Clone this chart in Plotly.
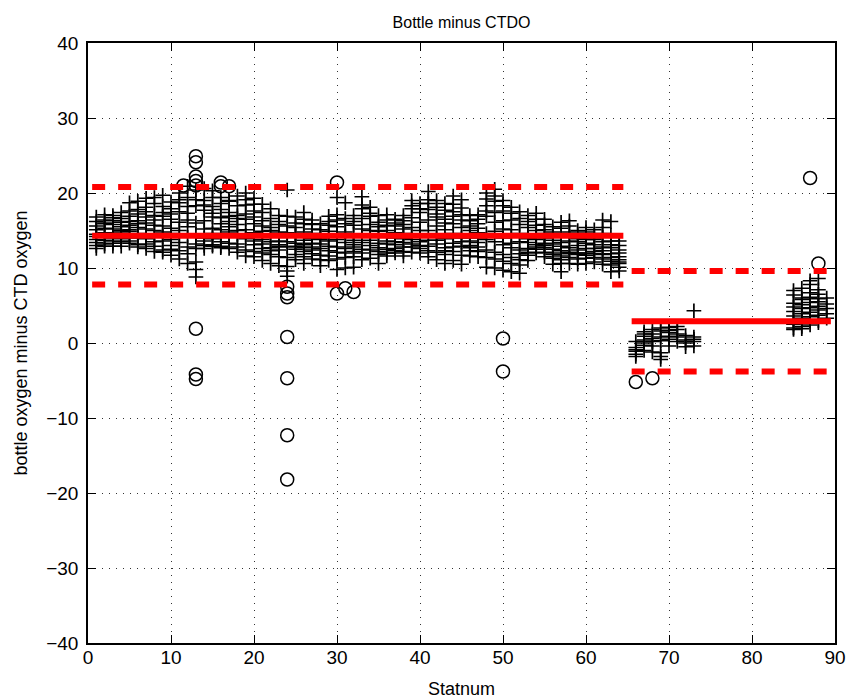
import plotly.graph_objects as go

# ---------------- data ----------------
# Group 1: stations 1-64, bottle minus CTD oxygen (crosses)
stations_g1 = list(range(1, 65))
vals_01_16 = [
    [13.0, 16.2, 14.5, 12.6, 15.1, 13.8, 16.8, 14.2, 15.6, 13.4],
    [15.9, 13.2, 14.7, 17.1, 12.9, 16.4, 14.1, 15.3, 13.7, 16.0],
    [14.6, 16.7, 13.3, 15.8, 12.9, 17.0, 14.0, 15.2, 16.3, 13.6],
    [16.1, 13.5, 15.0, 17.4, 14.3, 12.9, 16.6, 15.5, 13.9, 14.8],
    [18.7, 14.2, 16.9, 13.6, 15.7, 17.6, 14.9, 13.3, 16.2, 15.1],
    [17.2, 15.4, 13.1, 18.9, 16.3, 14.6, 12.8, 17.8, 15.9, 14.0],
    [19.3, 13.9, 16.8, 12.6, 18.1, 15.2, 14.4, 17.5, 13.2, 16.0],
    [18.6, 12.2, 15.7, 19.4, 14.1, 17.0, 13.5, 16.4, 12.9, 15.0],
    [19.7, 16.9, 12.4, 14.8, 18.2, 13.6, 17.4, 15.6, 12.1, 14.2],
    [18.8, 11.7, 15.3, 17.9, 13.0, 16.5, 12.5, 14.6, 17.2, 13.8],
    [20.0, 11.2, 16.1, 18.7, 13.4, 15.0, 12.3, 17.5, 14.2, 19.1],
    [20.9, 10.6, 17.3, 19.4, 12.8, 15.5, 14.1, 18.2, 11.9, 16.4],
    [20.4, 10.8, 9.8, 8.8, 18.3, 13.2, 16.0, 14.5, 19.1, 12.6],
    [20.6, 13.0, 17.7, 15.2, 19.0, 12.6, 16.3, 14.0, 18.4, 13.6],
    [20.3, 14.6, 18.2, 13.1, 16.8, 19.4, 15.3, 12.9, 17.3, 13.9],
    [19.4, 12.7, 15.9, 17.8, 13.5, 14.4, 18.6, 16.7, 12.9, 15.1],
]
vals_17_32 = [
    [18.9, 12.6, 16.2, 14.8, 17.4, 13.3, 15.5, 19.0, 14.1, 16.9],
    [19.6, 12.1, 17.0, 14.5, 18.3, 13.2, 15.8, 16.6, 12.8, 15.0],
    [20.0, 11.6, 18.4, 13.9, 16.5, 15.1, 19.1, 12.4, 17.2, 14.4],
    [19.3, 11.5, 17.6, 13.6, 15.9, 18.5, 12.2, 14.7, 16.8, 13.1],
    [18.5, 11.0, 16.3, 13.2, 14.9, 17.4, 12.0, 15.6, 13.8, 12.6],
    [17.9, 10.6, 15.4, 12.7, 16.6, 13.5, 11.8, 14.3, 12.3, 15.0],
    [17.0, 10.3, 14.8, 12.4, 15.8, 11.5, 13.6, 12.9, 16.2, 13.1],
    [20.4, 8.9, 9.6, 10.2, 16.9, 12.8, 14.7, 11.4, 13.5, 15.6],
    [16.8, 11.1, 14.2, 12.5, 15.4, 13.3, 11.8, 16.0, 12.9, 14.6],
    [17.4, 10.6, 13.7, 15.9, 12.2, 14.8, 11.5, 16.5, 13.1, 12.7],
    [16.4, 11.2, 13.9, 12.4, 15.2, 14.6, 11.9, 13.3, 15.8, 12.8],
    [15.9, 10.3, 13.2, 14.5, 11.7, 12.6, 15.1, 13.8, 11.1, 14.0],
    [16.9, 11.0, 14.3, 12.3, 15.7, 13.6, 11.6, 16.2, 12.9, 14.9],
    [19.4, 9.8, 17.1, 12.1, 15.5, 13.8, 11.2, 16.4, 14.5, 12.8],
    [18.7, 10.0, 15.9, 12.6, 14.2, 13.4, 11.4, 16.6, 12.0, 14.8],
    [17.0, 10.1, 14.5, 12.2, 15.7, 13.1, 11.5, 16.2, 12.8, 13.7],
]
vals_33_48 = [
    [19.5, 11.1, 16.6, 13.4, 17.9, 12.5, 15.2, 14.3, 18.4, 12.0],
    [18.1, 11.3, 15.8, 13.0, 16.9, 12.4, 14.5, 17.3, 13.7, 15.0],
    [17.0, 10.6, 14.9, 12.7, 16.1, 13.3, 11.8, 15.5, 12.2, 14.1],
    [17.1, 11.6, 15.0, 13.2, 16.4, 12.5, 14.4, 12.0, 15.7, 13.6],
    [16.5, 12.0, 14.7, 13.1, 15.6, 12.6, 14.0, 16.0, 13.5, 12.3],
    [17.0, 11.6, 15.2, 13.4, 16.3, 12.2, 14.6, 12.8, 15.8, 13.9],
    [19.0, 12.1, 16.7, 13.8, 17.9, 12.8, 15.4, 14.3, 18.3, 13.2],
    [18.6, 12.0, 16.1, 13.5, 17.4, 12.6, 15.0, 14.2, 17.9, 13.0],
    [20.2, 11.5, 17.8, 13.7, 19.1, 12.3, 16.4, 15.0, 18.6, 12.9],
    [19.0, 11.1, 17.2, 13.2, 18.1, 12.1, 15.6, 14.4, 16.8, 13.7],
    [18.6, 10.6, 16.5, 12.7, 17.7, 11.8, 15.1, 13.9, 16.0, 12.3],
    [19.6, 11.0, 17.5, 13.3, 18.5, 12.2, 15.9, 14.6, 16.9, 12.8],
    [19.1, 10.5, 17.1, 12.9, 18.0, 11.7, 15.4, 14.0, 16.4, 13.5],
    [17.0, 11.6, 15.6, 13.0, 16.3, 12.3, 14.4, 13.6, 15.0, 12.7],
    [17.1, 11.5, 15.9, 12.8, 16.5, 12.2, 14.7, 13.4, 15.3, 14.0],
    [20.0, 10.1, 18.3, 12.4, 19.2, 11.4, 16.9, 13.8, 17.6, 14.6],
]
vals_49_64 = [
    [20.5, 10.0, 18.9, 12.1, 19.6, 11.2, 17.4, 13.5, 16.1, 14.9],
    [19.0, 9.7, 17.6, 11.8, 18.3, 10.9, 16.3, 13.1, 15.2, 14.0],
    [18.1, 9.5, 16.4, 11.4, 17.3, 10.6, 15.1, 12.7, 14.3, 13.3],
    [17.5, 9.3, 15.8, 11.1, 16.6, 10.4, 14.6, 12.4, 13.5, 11.9],
    [17.0, 11.0, 15.4, 12.6, 16.2, 11.7, 14.3, 13.4, 12.1, 13.9],
    [17.3, 12.0, 15.7, 13.1, 16.5, 12.5, 14.5, 13.8, 15.0, 12.8],
    [16.5, 11.5, 15.1, 12.7, 15.8, 12.1, 14.0, 13.3, 14.6, 13.0],
    [15.5, 10.5, 14.2, 12.0, 14.8, 11.3, 13.2, 12.5, 13.7, 11.8],
    [16.1, 9.5, 14.6, 11.6, 15.3, 10.6, 13.4, 12.3, 12.9, 11.1],
    [16.3, 10.6, 14.8, 12.1, 15.6, 11.4, 13.6, 12.7, 14.2, 11.9],
    [15.0, 10.5, 13.9, 11.8, 14.5, 11.2, 13.0, 12.4, 12.0, 13.5],
    [15.4, 10.6, 14.1, 12.0, 14.8, 11.3, 13.3, 12.6, 11.7, 13.8],
    [15.1, 10.8, 13.8, 12.2, 14.5, 11.4, 13.1, 12.6, 11.9, 14.0],
    [16.4, 10.5, 14.6, 12.3, 15.4, 11.2, 13.5, 12.8, 11.8, 14.1],
    [16.2, 9.5, 13.6, 11.4, 14.4, 10.4, 12.7, 11.9, 10.9, 13.1],
    [13.6, 9.6, 12.4, 10.6, 13.0, 10.1, 11.5, 11.1, 12.0, 10.8],
]

# Group 2: stations 66-73 and 85-89 (crosses)
stations_g2a = [66, 67, 68, 69, 70, 71, 72, 73]
vals_66_73 = [
    [-1.5, -0.6, -1.1, 0.2, -1.8, -0.9],
    [0.4, 1.5, -0.3, 0.9, -1.0, 1.2, 0.0],
    [1.2, -0.4, 0.6, 1.8, -1.2, 0.2],
    [1.6, -1.3, -2.2, 0.8, -1.8, 2.0, 0.3],
    [2.1, 0.5, 1.4, -0.4, 0.9, 1.7],
    [1.8, 0.8, 2.2, 1.2, 0.2],
    [0.4, -0.5, 1.0, 0.0],
    [4.3, 0.8, -0.4, 0.2, 0.5],
]
stations_g2b = [85, 86, 87, 88, 89]
vals_85_89 = [
    [2.0, 4.2, 6.4, 3.0, 5.3, 2.5, 7.0, 4.8, 3.6, 1.8],
    [3.3, 5.8, 2.2, 4.6, 7.3, 3.9, 6.0, 1.9, 5.1, 2.8],
    [4.1, 6.7, 2.9, 5.4, 7.8, 3.5, 6.1, 4.7, 8.3, 2.4],
    [3.7, 5.9, 8.6, 4.4, 7.1, 3.0, 6.5, 4.9, 5.5, 2.7],
    [3.9, 5.2, 4.6, 6.0, 3.3],
]

# Rejected bottles (open circles)
outlier_stn = [11.5, 13, 13, 13, 13, 13, 13, 13, 13, 16, 16, 17,
               24, 24, 24, 24, 24, 24, 24, 30, 30, 31, 32, 50, 50, 66, 68, 87, 88]
outlier_val = [21.0, 24.9, 24.1, 22.2, 21.6, 21.0, 1.9, -4.2, -4.8, 21.4, 20.9, 20.9,
               7.5, 6.6, 6.1, 0.8, -4.7, -12.3, -18.2, 21.4, 6.6, 7.3, 6.8, 0.6, -3.8,
               -5.2, -4.7, 22.0, 10.6]

# Mean offset and +/- limits for each group
grp_x_start = [0.5, 65.5]
grp_x_end = [64.5, 89.5]
grp_mean = [14.3, 2.9]
grp_upper = [20.8, 9.6]
grp_lower = [7.8, -3.8]

# Axis ticks
x_ticks = [0, 10, 20, 30, 40, 50, 60, 70, 80, 90]
y_ticks = [-40, -30, -20, -10, 0, 10, 20, 30, 40]

# ---------------- build ----------------
def flatten(stns, vals):
    xs, ys = [], []
    for s, v in zip(stns, vals):
        xs.extend([s] * len(v))
        ys.extend(v)
    return xs, ys

cx, cy = [], []
for stns, vals in [
    (stations_g1[0:16], vals_01_16),
    (stations_g1[16:32], vals_17_32),
    (stations_g1[32:48], vals_33_48),
    (stations_g1[48:64], vals_49_64),
    (stations_g2a, vals_66_73),
    (stations_g2b, vals_85_89),
]:
    a, b = flatten(stns, vals)
    cx += a
    cy += b

fig = go.Figure()

fig.add_trace(go.Scatter(
    x=cx, y=cy, mode="markers",
    marker=dict(symbol="cross-thin", size=10.5, color="black",
                line=dict(color="black", width=1.7)),
    showlegend=False, hoverinfo="skip"))

fig.add_trace(go.Scatter(
    x=outlier_stn, y=outlier_val, mode="markers",
    marker=dict(symbol="circle-open", size=13, color="black",
                line=dict(color="black", width=1.5)),
    showlegend=False, hoverinfo="skip"))

red = "#ff0000"
for i in range(2):
    xs = [grp_x_start[i], grp_x_end[i]]
    fig.add_trace(go.Scatter(x=xs, y=[grp_mean[i]] * 2, mode="lines",
                             line=dict(color=red, width=6),
                             showlegend=False, hoverinfo="skip"))
    for lim in (grp_upper[i], grp_lower[i]):
        fig.add_trace(go.Scatter(x=xs, y=[lim] * 2, mode="lines",
                                 line=dict(color=red, width=6, dash="13px,13px"),
                                 showlegend=False, hoverinfo="skip"))

font = "Liberation Sans, Arial, Helvetica, sans-serif"
axis_common = dict(
    showline=True, linecolor="black", linewidth=1.5, mirror="ticks",
    ticks="inside", ticklen=8, tickwidth=1, tickcolor="black",
    showgrid=True, gridcolor="#333333", gridwidth=1, griddash="1px,6px",
    zeroline=False, automargin=False,
    tickfont=dict(family=font, size=19, color="black"),
)

fig.update_layout(
    width=853, height=700, autosize=False,
    margin=dict(l=88, r=18, t=43, b=57, pad=0),
    paper_bgcolor="white", plot_bgcolor="white",
    title=dict(text="Bottle minus CTDO", x=0.5, xref="paper",
               y=1 - 22 / 700, yref="container", yanchor="middle", xanchor="center",
               font=dict(family=font, size=16, color="black")),
    xaxis=dict(range=[0, 90], tickvals=x_ticks, ticklabelstandoff=-4,
               title=dict(text="Statnum", standoff=16,
                          font=dict(family=font, size=18, color="black")),
               **axis_common),
    yaxis=dict(range=[-40, 40], tickvals=y_ticks, ticklabelstandoff=4,
               title=dict(text="bottle oxygen minus CTD oxygen", standoff=14,
                          font=dict(family=font, size=18, color="black")),
               **axis_common),
)

post = ("document.body.style.margin='0';document.body.style.padding='0';"
        "document.body.style.overflow='hidden';"
        "var gd=document.getElementById('{plot_id}');"
        "Plotly.relayout(gd,{width:853,height:700});")

fig.write_html("out.html",
               config={"responsive": False, "displayModeBar": False},
               post_script=post)
